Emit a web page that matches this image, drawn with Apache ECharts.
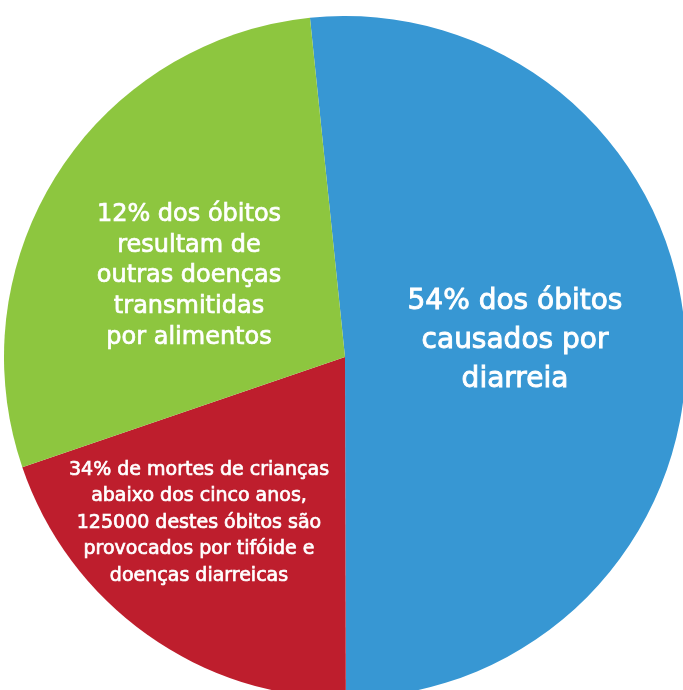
<!DOCTYPE html>
<html>
<head>
<meta charset="utf-8">
<script src="https://cdn.jsdelivr.net/npm/echarts@6/dist/echarts.min.js"></script>
<style>
  html, body { margin: 0; padding: 0; background: #fff; }
  #pie { width: 683px; height: 690px; }
</style>
</head>
<body>
<div id="pie"></div>
<script>
// slices, clockwise from the top
var sliceNames = ['diarreia', 'criancas', 'outras'];
var sliceValues = [51.6, 19.8, 28.6];
var sliceLabels = [
  '54% dos óbitos\ncausados por\ndiarreia',
  '34% de mortes de crianças\nabaixo dos cinco anos,\n125000 destes óbitos são\nprovocados por tifóide e\ndoenças diarreicas',
  '12% dos óbitos\nresultam de\noutras doenças\ntransmitidas\npor alimentos'
];

var colors = ['#3797D3', '#BE1E2D', '#8DC63F'];
var fontSizes = [28, 19, 24];
var lineHeights = [39, 26.5, 30.7];
var labelPos = [[515, 341], [199, 523], [189, 276]];

var chart = echarts.init(document.getElementById('pie'));

var data = sliceValues.map(function (v, i) {
  return {
    value: v,
    name: sliceNames[i],
    itemStyle: { color: colors[i] },
    label: {
      formatter: sliceLabels[i],
      fontSize: fontSizes[i],
      lineHeight: lineHeights[i],
      textBorderColor: '#ffffff',
      textBorderWidth: fontSizes[i] > 25 ? 0.9 : 0.7
    }
  };
});

var option = {
  backgroundColor: '#ffffff',
  animation: false,
  series: [{
    type: 'pie',
    center: [345, 357],
    radius: 341,
    startAngle: 95.9,
    clockwise: true,
    avoidLabelOverlap: false,
    itemStyle: { borderWidth: 0 },
    label: {
      show: true,
      position: 'inside',
      color: '#ffffff',
      fontFamily: 'DejaVu Sans',
      align: 'center',
      verticalAlign: 'middle'
    },
    labelLine: { show: false },
    labelLayout: function (params) {
      var p = labelPos[params.dataIndex];
      return { x: p[0], y: p[1], align: 'center', verticalAlign: 'middle' };
    },
    emphasis: { disabled: true },
    data: data
  }]
};

chart.setOption(option);
</script>
</body>
</html>
